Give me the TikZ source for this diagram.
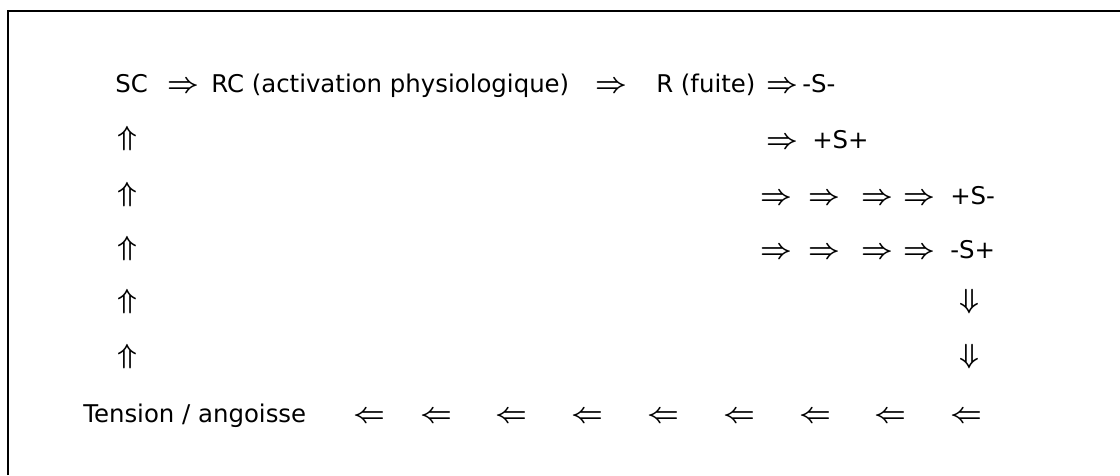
\documentclass[tikz,border=0pt]{standalone}
\usepackage{fontspec}
\setmainfont{DejaVu Sans}
\usetikzlibrary{positioning}

\begin{document}
\begin{tikzpicture}[
    x=0.75pt, y=-0.75pt,
    lbl/.style={anchor=base west, inner sep=0pt, font=\fontsize{18.3}{22}\selectfont},
    harr/.style={anchor=base, inner sep=0pt, font=\fontsize{20}{20}\selectfont\boldmath},
    varr/.style={inner sep=0pt, font=\fontsize{21}{21}\selectfont\boldmath},
    frame/.style={line width=1.5pt}
]
    \useasboundingbox (0,0) rectangle (1120,475);
    \draw[frame] (7.5,475) -- (7.5,10.5) -- (1120,10.5);

    % first line
    \node[lbl] (sc) at (115,92) {SC};
    \node[harr] (a1) at (183,92) {$\Rightarrow$};
    \node[lbl] (rc) at (211,92) {RC (activation physiologique)};
    \node[harr] (a2) at (611,92) {$\Rightarrow$};
    \node[lbl] (r) at (656,92) {R (fuite)};
    \node[harr] (a3) at (782,92) {$\Rightarrow$};
    \node[lbl] (mm) at (802,92) {-S-};

    % outcomes
    \node[harr] (b1) at (782,148) {$\Rightarrow$};
    \node[lbl] (pp) at (812,148) {+S+};

    \node[harr] (c1) at (776,204) {$\Rightarrow$};
    \node[harr] (c2) at (824,204) {$\Rightarrow$};
    \node[harr] (c3) at (877,204) {$\Rightarrow$};
    \node[harr] (c4) at (919,204) {$\Rightarrow$};
    \node[lbl] (pm) at (950,204) {+S-};

    \node[harr] (d1) at (776,258) {$\Rightarrow$};
    \node[harr] (d2) at (824,258) {$\Rightarrow$};
    \node[harr] (d3) at (877,258) {$\Rightarrow$};
    \node[harr] (d4) at (919,258) {$\Rightarrow$};
    \node[lbl] (mp) at (950,258) {-S+};

    % going down on the right
    \node[varr] (e1) at (969,302) {$\Downarrow$};
    \node[varr] (e2) at (969,357) {$\Downarrow$};

    % bottom line
    \node[lbl] (ta) at (83,422) {Tension / angoisse};
    \node[harr] (f1) at (369,422) {$\Leftarrow$};
    \node[harr] (f2) at (436,422) {$\Leftarrow$};
    \node[harr] (f3) at (511,422) {$\Leftarrow$};
    \node[harr] (f4) at (587,422) {$\Leftarrow$};
    \node[harr] (f5) at (663,422) {$\Leftarrow$};
    \node[harr] (f6) at (739,422) {$\Leftarrow$};
    \node[harr] (f7) at (815,422) {$\Leftarrow$};
    \node[harr] (f8) at (890,422) {$\Leftarrow$};
    \node[harr] (f9) at (966,422) {$\Leftarrow$};

    % going up on the left
    \node[varr] (g1) at (127,357) {$\Uparrow$};
    \node[varr] (g2) at (127,302) {$\Uparrow$};
    \node[varr] (g3) at (127,249) {$\Uparrow$};
    \node[varr] (g4) at (127,195) {$\Uparrow$};
    \node[varr] (g5) at (127,139) {$\Uparrow$};
\end{tikzpicture}
\end{document}
